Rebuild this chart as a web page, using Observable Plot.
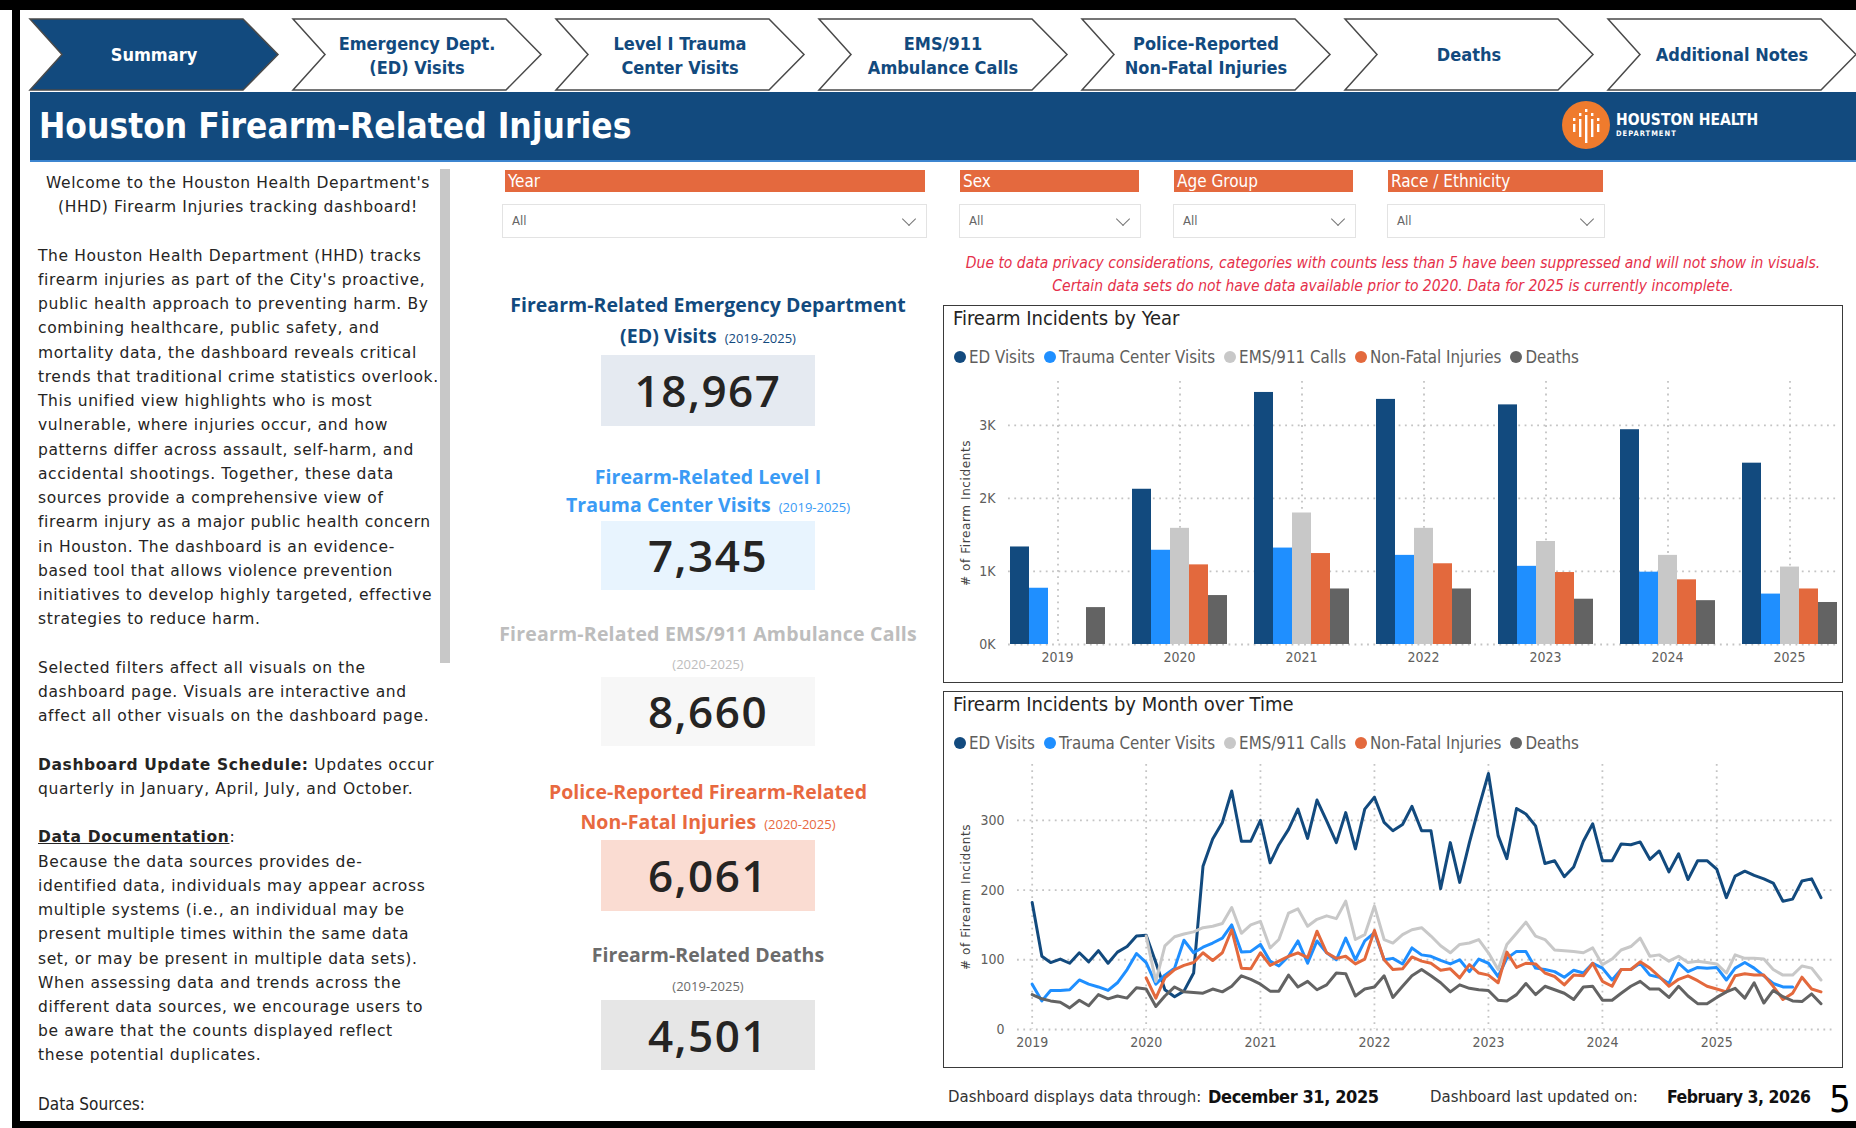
<!DOCTYPE html>
<html><head><meta charset="utf-8">
<script src="https://cdn.jsdelivr.net/npm/d3@7"></script>
<script src="https://cdn.jsdelivr.net/npm/@observablehq/plot@0.6"></script>
<style>
body{margin:0;width:1856px;height:1128px;position:relative;overflow:hidden;background:#fff;font-family:"DejaVu Sans",sans-serif;color:#252423}
.a{position:absolute}
.cond{font-family:"DejaVu Sans Condensed","Liberation Sans Narrow","Roboto Condensed","DejaVu Sans",sans-serif;font-stretch:condensed}
.flabel{position:absolute;top:170px;height:22px;background:#E4693E;color:#fff;font-size:17px;line-height:22px;padding-left:3px;box-sizing:border-box}
.fdrop{position:absolute;top:204px;height:34px;border:1px solid #E3E3E3;box-sizing:border-box;font-size:13px;color:#666;line-height:32px;padding-left:9px}
.fdrop .chev{position:absolute;right:12px;top:9px;width:9px;height:9px;border-right:1.3px solid #777;border-bottom:1.3px solid #777;transform:rotate(45deg)}
.kt{position:absolute;left:448px;width:520px;text-align:center;height:30px;line-height:30px;font-family:"Open Sans","DejaVu Sans",sans-serif;font-weight:700;font-size:19.5px;letter-spacing:0.05px}
.kt small{font-weight:400;font-size:13px;margin-left:8px;letter-spacing:0}
.box{position:absolute;left:601px;width:214px;text-align:center;font-family:"Open Sans","DejaVu Sans",sans-serif;font-size:44px;font-weight:600;color:#252423;letter-spacing:1.5px}
.panel{position:absolute;left:943px;width:900px;border:1.5px solid #3a3a3a;box-sizing:border-box}
.ptitle{position:absolute;left:953px;height:26px;line-height:26px;font-size:20px;color:#252423}
.legend{position:absolute;left:954px;height:24px;line-height:24px;font-size:16.8px;color:#605E5C;display:flex;align-items:center}
.legend .it{display:flex;align-items:center;margin-right:9px}
.legend .dot{width:12px;height:12px;border-radius:50%;margin-right:3px}
#lefttext{position:absolute;left:38px;top:171px;width:420px;font-size:15.5px;letter-spacing:0.62px;line-height:24.23px;color:#252423;white-space:nowrap}
</style></head><body>

<div class="a" style="left:0;top:0;width:1856px;height:10px;background:#000"></div>
<div class="a" style="left:12px;top:0;width:8px;height:1128px;background:#000"></div>
<div class="a" style="left:12px;top:1121px;width:1844px;height:7px;background:#000"></div>

<svg id="tabs" class="a" style="left:0;top:0" width="1856" height="95"></svg>

<div class="a" style="left:30px;top:92px;width:1826px;height:68px;background:#124A7E;border-bottom:2px solid #3C85D0"></div>
<div class="a cond" style="left:39px;top:92px;height:68px;line-height:68px;font-size:35px;font-weight:700;color:#fff">Houston Firearm-Related Injuries</div>
<svg class="a" style="left:1560px;top:99px" width="60" height="54">
  <circle cx="26" cy="26" r="24" fill="#EF7B2D"/>
  <g fill="#fff">
    <rect x="13" y="19" width="2.4" height="3"/><rect x="13" y="25" width="2.4" height="8"/>
    <rect x="19" y="14" width="2.4" height="3"/><rect x="19" y="20" width="2.4" height="18"/>
    <rect x="25" y="10" width="2.4" height="3"/><rect x="25" y="16" width="2.4" height="28"/>
    <rect x="31" y="14" width="2.4" height="3"/><rect x="31" y="20" width="2.4" height="18"/>
    <rect x="37" y="19" width="2.4" height="3"/><rect x="37" y="25" width="2.4" height="8"/>
  </g>
</svg>
<div class="a cond" style="left:1616px;top:111px;font-size:15.5px;font-weight:700;color:#fff;line-height:18px">HOUSTON HEALTH</div>
<div class="a cond" style="left:1616px;top:129px;font-size:7.5px;font-weight:700;color:#fff;letter-spacing:1px;line-height:9px">DEPARTMENT</div>

<div id="lefttext">
<div style="text-align:center;width:400px">Welcome to the Houston Health Department's<br>(HHD) Firearm Injuries tracking dashboard!</div>
<br>
The Houston Health Department (HHD) tracks<br>
firearm injuries as part of the City's proactive,<br>
public health approach to preventing harm. By<br>
combining healthcare, public safety, and<br>
mortality data, the dashboard reveals critical<br>
trends that traditional crime statistics overlook.<br>
This unified view highlights who is most<br>
vulnerable, where injuries occur, and how<br>
patterns differ across assault, self-harm, and<br>
accidental shootings. Together, these data<br>
sources provide a comprehensive view of<br>
firearm injury as a major public health concern<br>
in Houston. The dashboard is an evidence-<br>
based tool that allows violence prevention<br>
initiatives to develop highly targeted, effective<br>
strategies to reduce harm.<br>
<br>
Selected filters affect all visuals on the<br>
dashboard page. Visuals are interactive and<br>
affect all other visuals on the dashboard page.<br>
<br>
<b>Dashboard Update Schedule:</b> Updates occur<br>
quarterly in January, April, July, and October.<br>
<br>
<b><u>Data Documentation</u></b>:<br>
Because the data sources provides de-<br>
identified data, individuals may appear across<br>
multiple systems (i.e., an individual may be<br>
present multiple times within the same data<br>
set, or may be present in multiple data sets).<br>
When assessing data and trends across the<br>
different data sources, we encourage users to<br>
be aware that the counts displayed reflect<br>
these potential duplicates.<br>
<br>
<span class="cond" style="font-size:17px;letter-spacing:0">Data Sources:</span>
</div>
<div class="a" style="left:440px;top:169px;width:10px;height:494px;background:#C8C8C8"></div>

<div id="filters"></div>

<div class="a cond" style="left:943px;top:252px;width:900px;text-align:center;font-style:italic;font-size:15.5px;line-height:23px;color:#E5304A">Due to data privacy considerations, categories with counts less than 5 have been suppressed and will not show in visuals.<br>Certain data sets do not have data available prior to 2020. Data for 2025 is currently incomplete.</div>

<div class="kt" style="top:290px;color:#124A7E">Firearm-Related Emergency Department</div>
<div class="kt" style="top:321px;color:#124A7E">(ED) Visits<small>(2019-2025)</small></div>
<div class="box" id="b0" style="top:355px;height:71px;line-height:71px;background:#E5EAF1"></div>
<div class="kt" style="top:462px;color:#3A9BF5">Firearm-Related Level I</div>
<div class="kt" style="top:490px;color:#3A9BF5">Trauma Center Visits<small>(2019-2025)</small></div>
<div class="box" id="b1" style="top:521px;height:69px;line-height:69px;background:#E8F4FE"></div>
<div class="kt" style="top:619px;color:#BDBDBD;letter-spacing:0.2px">Firearm-Related EMS/911 Ambulance Calls</div>
<div class="kt" style="top:647px;color:#BDBDBD"><small style="margin:0">(2020-2025)</small></div>
<div class="box" id="b2" style="top:677px;height:69px;line-height:69px;background:#F7F7F7"></div>
<div class="kt" style="top:777px;color:#E8693F">Police-Reported Firearm-Related</div>
<div class="kt" style="top:807px;color:#E8693F">Non-Fatal Injuries<small>(2020-2025)</small></div>
<div class="box" id="b3" style="top:840px;height:71px;line-height:71px;background:#FADCD2"></div>
<div class="kt" style="top:940px;color:#6B6B6B">Firearm-Related Deaths</div>
<div class="kt" style="top:969px;color:#6B6B6B"><small style="margin:0">(2019-2025)</small></div>
<div class="box" id="b4" style="top:1000px;height:70px;line-height:70px;background:#E6E6E6"></div>

<div class="panel" style="top:305px;height:378px"></div>
<div class="ptitle cond" style="top:305px">Firearm Incidents by Year</div>
<div class="legend cond" id="leg1" style="top:345px"></div>
<div id="bar" class="a" style="left:945px;top:372px;width:896px;height:300px"></div>

<div class="panel" style="top:691px;height:377px"></div>
<div class="ptitle cond" style="top:691px">Firearm Incidents by Month over Time</div>
<div class="legend cond" id="leg2" style="top:731px"></div>
<div id="line" class="a" style="left:945px;top:758px;width:896px;height:306px"></div>

<div class="a cond" style="left:948px;top:1086px;line-height:22px;font-size:16.6px;color:#333">Dashboard displays data through:</div>
<div class="a cond" style="left:1208px;top:1085px;line-height:24px;font-size:18px;letter-spacing:-0.4px;font-weight:700;color:#111">December 31, 2025</div>
<div class="a cond" style="left:1430px;top:1086px;line-height:22px;font-size:16.6px;color:#333">Dashboard last updated on:</div>
<div class="a cond" style="left:1667px;top:1085px;line-height:24px;font-size:17.5px;letter-spacing:-0.5px;font-weight:700;color:#111">February 3, 2026</div>
<div class="a cond" style="left:1829px;top:1078px;line-height:42px;font-size:38px;color:#000">5</div>

<script>
// ---------- data ----------
const tabLabels = [["Summary"],["Emergency Dept.","(ED) Visits"],["Level I Trauma","Center Visits"],["EMS/911","Ambulance Calls"],["Police-Reported","Non-Fatal Injuries"],["Deaths"],["Additional Notes"]];
const filterNames = ["Year","Sex","Age Group","Race / Ethnicity"];
const kpiValues = ["18,967","7,345","8,660","6,061","4,501"];

const years = ["2019","2020","2021","2022","2023","2024","2025"];
const series = ["ED Visits","Trauma Center Visits","EMS/911 Calls","Non-Fatal Injuries","Deaths"];
const colors = ["#124A7E","#1F8FFF","#C8C8C8","#E3693D","#636363"];

const edYearly     = [1335,2125,3450,3355,3280,2940,2482];
const traumaYearly = [770,1290,1320,1220,1070,990,690];
const emsYearly    = [null,1590,1800,1590,1410,1220,1060];
const nfYearly     = [null,1090,1245,1105,985,885,760];
const deathsYearly = [505,670,760,760,620,600,575];
const barTicks = [0,1000,2000,3000];

const edMonthly = [
 182,105,96,101,95,110,97,113,95,111,119,134,
 135,96,57,47,55,81,234,273,297,342,270,270,
 300,239,265,287,316,274,329,299,268,311,259,316,
 333,297,285,294,320,285,285,202,268,211,268,318,
 367,278,245,317,309,292,238,242,219,233,270,295,
 242,242,266,265,269,244,256,226,252,215,242,242,
 230,189,220,227,221,216,210,184,187,213,216,189];
const traumaMonthly = [
 65,41,56,56,57,71,65,61,56,67,86,109,
 96,65,78,88,128,110,118,124,131,150,111,112,
 122,98,91,105,127,95,127,110,100,131,100,127,
 139,100,102,94,117,107,105,99,94,100,83,101,
 95,76,102,112,112,88,86,83,75,85,81,95,
 88,71,86,86,95,78,75,66,95,83,89,88,
 89,71,88,96,88,77,66,61,61];
const emsMonthly = [
 134,69,120,133,137,140,146,148,152,175,138,150,
 155,117,129,167,173,148,158,163,159,184,129,136,
 177,129,124,136,143,146,134,120,110,122,124,129,
 110,86,122,138,154,134,129,114,113,112,110,117,
 93,101,114,119,131,105,107,98,105,96,98,96,
 94,81,107,102,102,101,86,78,78,91,88,71];
const nfMonthly = [
 74,45,74,86,92,96,110,99,110,143,88,87,
 110,92,98,105,110,103,141,110,102,105,94,101,
 142,100,86,87,104,98,95,85,87,74,93,81,
 78,67,111,89,95,94,81,76,64,78,77,95,
 69,62,86,86,97,88,76,62,72,77,70,62,
 58,54,77,80,78,78,62,43,52,75,58,54];
const deathsMonthly = [
 50,44,41,39,31,42,34,50,44,48,45,60,
 58,33,48,61,54,53,52,58,54,62,77,72,
 65,55,55,78,61,69,57,64,81,80,48,58,
 61,77,46,62,77,86,77,67,54,64,59,57,
 56,42,41,50,66,50,62,57,52,43,61,62,
 42,42,52,62,69,58,58,46,62,48,37,37,
 46,54,59,45,67,38,56,47,41,40,51,37];
const monthlyStartYear = [2019,2019,2020,2020,2019];
const lineTicks = [0,100,200,300];
const yearStarts = [2019,2020,2021,2022,2023,2024,2025];

// ---------- static parts ----------
const COND = '"DejaVu Sans Condensed","Liberation Sans Narrow","Roboto Condensed","DejaVu Sans",sans-serif';
const tabs = d3.select("#tabs");
tabLabels.forEach((lab, i) => {
  const x0 = 30 + 263 * i, t = 19, b = 90, m = 54.5;
  const sel = i === 0;
  tabs.append("polygon")
    .attr("points", [[x0,t],[x0+213,t],[x0+248,m],[x0+213,b],[x0,b],[x0+32,m]].map(p => p.join(",")).join(" "))
    .attr("fill", sel ? "#124A7E" : "#fff").attr("stroke", "#4a4a4a").attr("stroke-width", 1.5);
  const tx = tabs.append("text").attr("x", x0 + 124).attr("text-anchor", "middle")
    .attr("font-family", COND).attr("font-stretch", "condensed").attr("font-weight", 700).attr("font-size", 18)
    .attr("fill", sel ? "#fff" : "#124A7E");
  if (lab.length === 1) tx.append("tspan").attr("x", x0 + 124).attr("y", m + 6).text(lab[0]);
  else lab.forEach((s, k) => tx.append("tspan").attr("x", x0 + 124).attr("y", 50 + k * 24).text(s));
});

const fl = [[505,420,502,425],[960,179,959,182],[1174,179,1173,183],[1388,215,1387,218]];
const fdiv = d3.select("#filters");
filterNames.forEach((n, i) => {
  const [lx, lw, dx, dw] = fl[i];
  fdiv.append("div").attr("class", "flabel cond").style("left", lx + "px").style("width", lw + "px").text(n);
  const d = fdiv.append("div").attr("class", "fdrop cond").style("left", dx + "px").style("width", dw + "px").text("All");
  d.append("span").attr("class", "chev");
});
kpiValues.forEach((v, i) => document.getElementById("b" + i).textContent = v);

function legend(id) {
  const L = d3.select(id);
  series.forEach((s, i) => {
    const it = L.append("div").attr("class", "it");
    it.append("div").attr("class", "dot").style("background", colors[i]);
    it.append("span").text(s);
  });
}
legend("#leg1"); legend("#leg2");

// ---------- bar chart ----------
const yearlyArrays = [edYearly, traumaYearly, emsYearly, nfYearly, deathsYearly];
const barData = [];
years.forEach((y, yi) => series.forEach((s, si) => {
  const v = yearlyArrays[si][yi];
  if (v != null) barData.push({year: y, series: s, value: v});
}));

const plotStyle = {fontFamily: COND, fontSize: "14px", color: "#605E5C", background: "transparent", overflow: "visible"};
const dots = {stroke: "#C4C4C4", strokeWidth: 1.8, strokeDasharray: "1.8,4.5"};

function fixLabel(svg) {
  svg.querySelectorAll("text").forEach(t => {
    if (t.textContent.includes("Firearm Incidents")) {
      t.textContent = "# of Firearm Incidents";
      t.setAttribute("font-family", "DejaVu Sans");
      t.setAttribute("font-size", "12");
      t.setAttribute("fill", "#444");
      t.style.fontFamily = "DejaVu Sans"; t.style.fontSize = "12px"; t.style.letterSpacing = "0.6px";
    }
  });
}

const common = {width: 896, height: 300, marginLeft: 63, marginRight: 3, marginTop: 9, marginBottom: 28, style: plotStyle};
// background: y axis + horizontal dotted grid (continuous across groups)
const barBg = Plot.plot({
  ...common,
  y: {domain: [0, 3600], ticks: barTicks, tickFormat: d => d / 1000 + "K", tickSize: 0, tickPadding: 13,
      label: "# of Firearm Incidents", labelAnchor: "center", labelOffset: 47},
  marks: [Plot.ruleY(barTicks, {...dots})]
});
fixLabel(barBg);
// foreground: grouped bars faceted by year, year labels and vertical grid at group centres
const barFg = Plot.plot({
  ...common,
  facet: {data: barData, x: "year"},
  fx: {domain: years, paddingInner: 0.2, paddingOuter: 0, axis: "bottom", tickSize: 0, tickPadding: 8, label: null},
  x: {domain: series, padding: 0, axis: null},
  y: {domain: [0, 3600], axis: null},
  color: {domain: series, range: colors},
  marks: [
    Plot.ruleX([series[2]], {...dots}),
    Plot.barY(barData, {x: "series", y: "value", fill: "series"})
  ]
});
const bar = document.getElementById("bar");
barBg.style.position = "absolute"; barBg.style.left = "0"; barBg.style.top = "0";
barFg.style.position = "absolute"; barFg.style.left = "0"; barFg.style.top = "0";
bar.append(barBg, barFg);

// ---------- line chart ----------
const monthlyArrays = [edMonthly, traumaMonthly, emsMonthly, nfMonthly, deathsMonthly];
const lineData = [];
series.forEach((s, si) => monthlyArrays[si].forEach((v, m) =>
  lineData.push({series: s, date: new Date(Date.UTC(monthlyStartYear[si], m, 1)), value: v})));
const yearDates = yearStarts.map(y => new Date(Date.UTC(y, 0, 1)));

const linePlot = Plot.plot({
  width: 896, height: 306, marginLeft: 72, marginRight: 8, marginTop: 6, marginBottom: 35, style: plotStyle,
  x: {type: "utc", domain: [new Date(Date.UTC(2018, 10, 15)), new Date(Date.UTC(2026, 0, 10))],
      ticks: yearDates, tickFormat: d => String(d.getUTCFullYear()), tickSize: 0, tickPadding: 8, label: null},
  y: {domain: [0, 380], ticks: lineTicks, tickSize: 0, tickPadding: 13,
      label: "# of Firearm Incidents", labelAnchor: "center", labelOffset: 56},
  color: {domain: series, range: colors},
  marks: [
    Plot.ruleY(lineTicks, {...dots}),
    Plot.ruleX(yearDates, {...dots}),
    Plot.line(lineData, {x: "date", y: "value", stroke: "series", z: "series", strokeWidth: 3, strokeLinejoin: "round"})
  ]
});
fixLabel(linePlot);
document.getElementById("line").append(linePlot);
</script>
</body></html>
